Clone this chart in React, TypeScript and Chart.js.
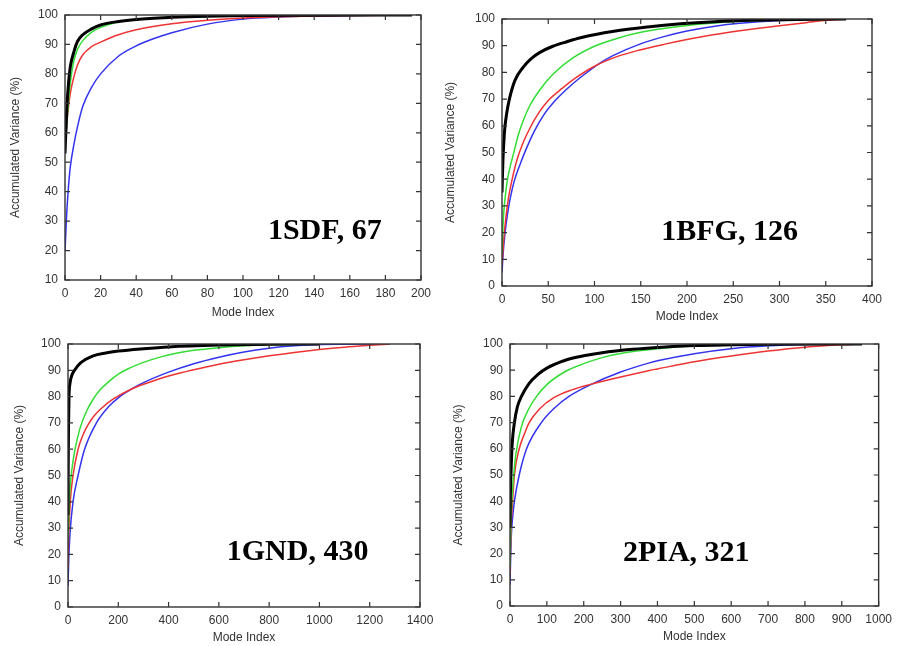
import React, { useEffect, useRef } from "react";
import { Chart, registerables } from "chart.js";

Chart.register(...registerables);

type Pt = [number, number];

// ---- 1SDF, 67 ----
const sdfBlack: Pt[] = [[0,53],[1,68],[2,77],[3,82.5],[5,87.5],[7,91],[10,93.3],[15,95.3],[20,96.6],[30,97.8],[40,98.5],[60,99.2],[80,99.6],[100,99.8],[140,99.95],[195,100]];
const sdfGreen: Pt[] = [[0,55],[1,63],[2,71],[3,77],[5,84.5],[7,88.3],[10,91.3],[15,94.2],[20,95.8],[30,97.6],[40,98.4],[60,99.2],[80,99.6],[100,99.8],[140,99.95],[195,100]];
const sdfRed: Pt[] = [[0,56],[1,63],[2,69],[3,73.5],[5,79],[7,83],[10,86.5],[15,89.3],[20,90.8],[30,93.3],[40,95],[60,97],[80,98.2],[100,99],[120,99.4],[140,99.7],[160,99.85],[195,100]];
const sdfBlue: Pt[] = [[0,20],[1,33],[2,42],[3,48.5],[5,56],[7,62],[10,69],[15,75.5],[20,80],[30,86],[40,89.5],[50,92],[60,94],[80,96.9],[100,98.6],[120,99.3],[140,99.65],[160,99.85],[195,100]];

// ---- 1BFG, 126 ----
const bfgBlack: Pt[] = [[0,35],[1,47],[2,54],[3,59],[5,64.5],[8,70],[14,77],[23,82],[31,85],[41,87.5],[55,89.8],[70,91.5],[85,93],[121,95.4],[157,97],[193,98.2],[230,99],[270,99.5],[320,99.85],[372,100]];
const bfgGreen: Pt[] = [[0,12],[1,22],[2,28],[4,35],[6,40],[9,45],[12,49],[18,57],[23,62],[30,67.5],[41,73.5],[55,79.3],[77,85.5],[100,89.8],[125,92.8],[150,95],[193,97.3],[230,98.5],[270,99.3],[320,99.8],[372,100]];
const bfgRed: Pt[] = [[0,8],[1,13],[2,18],[4,25],[7,33],[11,40],[16,47],[22,53],[30,59],[40,65],[50,69.5],[65,74],[80,78],[100,82.3],[125,86],[149,88.4],[175,90.5],[200,92.3],[230,94.2],[257,95.6],[300,97.5],[330,98.7],[351,99.5],[372,100]];
const bfgBlue: Pt[] = [[0,5],[1,11],[3,19],[6,27],[9,33],[13,39],[20,46],[27,52],[35,58],[45,64],[59,70],[75,75.3],[90,79.5],[105,83.3],[120,86.3],[149,90.6],[175,93.4],[200,95.5],[230,97.3],[257,98.4],[300,99.4],[372,100]];

// ---- 1GND, 430 ----
const gndBlack: Pt[] = [[0,35],[1,55],[2,68],[4,80],[8,85],[15,88],[26,90],[50,92.8],[100,95.5],[150,96.6],[200,97.3],[300,98.2],[400,98.9],[600,99.6],[800,99.9],[1000,100]];
const gndGreen: Pt[] = [[0,25],[3,35],[8,45],[15,52],[28,60],[48,68],[74,74.5],[100,79],[127,82.5],[160,85.5],[200,88.5],[233,90.3],[300,93],[366,95],[430,96.5],[500,97.6],[600,98.6],[700,99.3],[800,99.7],[1000,100]];
const gndRed: Pt[] = [[0,15],[3,28],[9,40],[20,50],[40,60],[60,65.5],[80,69.3],[105,72.8],[130,75.3],[179,79],[255,83],[350,86.3],[400,87.8],[500,90.2],[600,92.3],[700,94],[800,95.5],[900,96.8],[1000,97.9],[1100,98.8],[1200,99.5],[1280,100]];
const gndBlue: Pt[] = [[0,8],[3,18],[8,28],[20,40],[40,50],[66,60],[113,70],[160,76],[206,80],[255,83],[300,85.3],[400,89.3],[500,92.5],[600,95],[700,97],[800,98.4],[900,99.3],[1000,99.8],[1280,100]];

// ---- 2PIA, 321 ----
const piaBlack: Pt[] = [[0,30],[1,42],[3,52],[6,62],[12,70],[20,76],[31,80],[52,85],[75,88.3],[100,90.8],[150,93.8],[200,95.5],[250,96.7],[333,98],[400,98.7],[500,99.4],[600,99.7],[700,99.9],[955,100]];
const piaGreen: Pt[] = [[0,15],[2,30],[5,40],[10,50],[16,58],[30,68],[50,75],[72,80],[100,84.5],[150,89.5],[200,92.5],[250,94.8],[300,96.4],[400,98.2],[500,99.2],[600,99.7],[700,99.9],[955,100]];
const piaRed: Pt[] = [[0,12],[3,30],[7,40],[12,50],[25,60],[40,66],[52,70],[80,75.2],[120,79.6],[170,82.6],[216,84.5],[300,87.4],[378,89.9],[400,90.5],[500,93.2],[600,95.4],[700,97.3],[800,98.8],[900,99.7],[955,100]];
const piaBlue: Pt[] = [[0,8],[2,20],[4,28],[8,35],[12,40],[25,50],[45,60],[85,70],[120,75.5],[160,80],[216,84.3],[300,89.3],[378,92.8],[400,93.6],[500,96.3],[600,98.2],[700,99.3],[800,99.8],[955,100]];

const SANS = "'Liberation Sans', Arial, Helvetica, sans-serif";
const SERIF = "'Liberation Serif', 'Times New Roman', serif";
const TEXT = "#333333";
const SERIES_STYLE = [
  { color: "#000000", width: 3 },
  { color: "#33dd33", width: 1.5 },
  { color: "#ee3333", width: 1.5 },
  { color: "#3333ee", width: 1.5 },
];

interface Spec {
  label: string;
  labelAt: Pt;
  xMax: number;
  xStep: number;
  yMin: number;
  series: Pt[][];
  pad: { left: number; top: number; right: number; bottom: number };
  yW: number;
  xH: number;
  yTitlePad: number;
  xTitlePad: number;
}

const specs: Spec[] = [
  { label: "1SDF, 67", labelAt: [146, 26.5], xMax: 200, xStep: 20, yMin: 10,
    series: [sdfBlack, sdfGreen, sdfRed, sdfBlue],
    pad: { left: 0, top: 15, right: 477, bottom: 326 }, yW: 65, xH: 40, yTitlePad: 8, xTitlePad: 0 },
  { label: "1BFG, 126", labelAt: [246, 20.2], xMax: 400, xStep: 50, yMin: 0,
    series: [bfgBlack, bfgGreen, bfgRed, bfgBlue],
    pad: { left: 440, top: 19, right: 26, bottom: 320 }, yW: 62, xH: 40, yTitlePad: 3, xTitlePad: 2 },
  { label: "1GND, 430", labelAt: [913, 20.9], xMax: 1400, xStep: 200, yMin: 0,
    series: [gndBlack, gndGreen, gndRed, gndBlue],
    pad: { left: 0, top: 344, right: 478, bottom: 1 }, yW: 68, xH: 38, yTitlePad: 12, xTitlePad: 0 },
  { label: "2PIA, 321", labelAt: [478, 20.2], xMax: 1000, xStep: 100, yMin: 0,
    series: [piaBlack, piaGreen, piaRed, piaBlue],
    pad: { left: 448, top: 344, right: 18, bottom: 2 }, yW: 62, xH: 38, yTitlePad: 3, xTitlePad: 0 },
];

const framePlugin = {
  id: "frameAndLabel",
  afterDraw(chart: any, _args: any, opts: any) {
    const { ctx, chartArea } = chart;
    const xs = chart.scales.x;
    const ys = chart.scales.y;
    const { left, right, top, bottom } = chartArea;
    ctx.save();
    ctx.strokeStyle = "#333333";
    ctx.lineWidth = 1.4;
    ctx.strokeRect(left, top, right - left, bottom - top);
    ctx.lineWidth = 1.2;
    const tl = 5;
    ctx.beginPath();
    for (const t of xs.ticks) {
      const px = xs.getPixelForValue(t.value);
      ctx.moveTo(px, bottom);
      ctx.lineTo(px, bottom - tl);
      ctx.moveTo(px, top);
      ctx.lineTo(px, top + tl);
    }
    for (const t of ys.ticks) {
      const py = ys.getPixelForValue(t.value);
      ctx.moveTo(left, py);
      ctx.lineTo(left + tl, py);
      ctx.moveTo(right, py);
      ctx.lineTo(right - tl, py);
    }
    ctx.stroke();
    if (opts && opts.text) {
      ctx.fillStyle = "#000000";
      ctx.font = `bold 30px ${SERIF}`;
      ctx.textAlign = "center";
      ctx.textBaseline = "middle";
      ctx.fillText(opts.text, xs.getPixelForValue(opts.at[0]), ys.getPixelForValue(opts.at[1]));
    }
    ctx.restore();
  },
};

function Panel({ spec }: { spec: Spec }) {
  const ref = useRef<HTMLCanvasElement | null>(null);
  useEffect(() => {
    const canvas = ref.current;
    if (!canvas) return;
    const chart = new Chart(canvas, {
      type: "line",
      data: {
        datasets: spec.series.map((pts, i) => ({
          data: pts.map(([x, y]) => ({ x, y })),
          borderColor: SERIES_STYLE[i].color,
          borderWidth: SERIES_STYLE[i].width,
          pointRadius: 0,
          fill: false,
          cubicInterpolationMode: "monotone" as const,
        })),
      },
      options: {
        responsive: false,
        animation: false,
        devicePixelRatio: 1,
        events: [],
        layout: { padding: spec.pad },
        plugins: {
          legend: { display: false },
          tooltip: { enabled: false },
          frameAndLabel: { text: spec.label, at: spec.labelAt },
        } as any,
        scales: {
          x: {
            type: "linear",
            min: 0,
            max: spec.xMax,
            grid: { display: false, drawTicks: false },
            border: { display: false },
            ticks: {
              stepSize: spec.xStep,
              autoSkip: false,
              maxRotation: 0,
              padding: 6,
              color: TEXT,
              font: { family: SANS, size: 12 },
              callback: (v: any) => String(v),
            },
            title: {
              display: true,
              text: "Mode Index",
              color: TEXT,
              font: { family: SANS, size: 12 },
              padding: { top: 0, bottom: spec.xTitlePad },
            },
            afterFit: (s: any) => { s.height = spec.xH; },
          },
          y: {
            type: "linear",
            min: spec.yMin,
            max: 100,
            grid: { display: false, drawTicks: false },
            border: { display: false },
            ticks: {
              stepSize: 10,
              autoSkip: false,
              padding: 7,
              color: TEXT,
              font: { family: SANS, size: 12 },
              callback: (v: any) => String(v),
            },
            title: {
              display: true,
              text: "Accumulated Variance (%)",
              color: TEXT,
              font: { family: SANS, size: 12 },
              padding: { top: spec.yTitlePad, bottom: 0 },
            },
            afterFit: (s: any) => { s.width = spec.yW; },
          },
        },
      } as any,
      plugins: [framePlugin],
    });
    return () => chart.destroy();
  }, [spec]);
  return (
    <canvas
      ref={ref}
      width={898}
      height={646}
      style={{ position: "absolute", left: 0, top: 0, width: 898, height: 646 }}
    />
  );
}

export default function App() {
  return (
    <div style={{ position: "absolute", left: 0, top: 0, width: 898, height: 646, background: "#ffffff" }}>
      {specs.map((s) => (
        <Panel key={s.label} spec={s} />
      ))}
    </div>
  );
}
